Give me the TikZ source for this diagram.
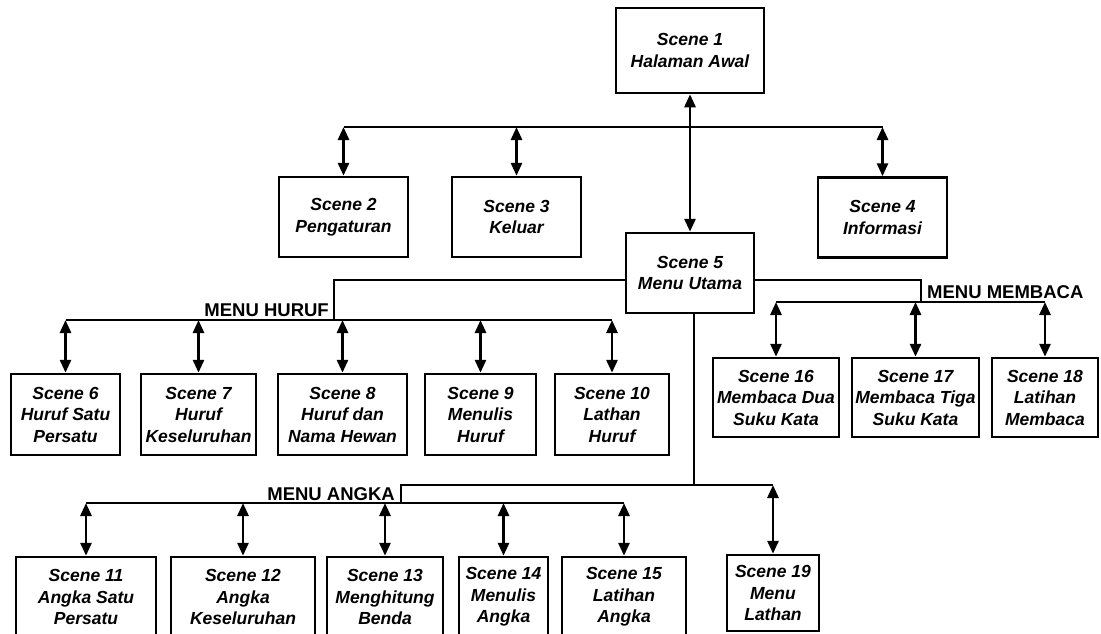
\documentclass[tikz,border=0pt]{standalone}
\usepackage{fontspec}
\setmainfont{Liberation Sans}
\usetikzlibrary{arrows.meta}
\tikzset{>={Triangle[length=13pt,width=11pt]}}
\tikzset{
  scene/.style={draw,line width=2.5pt,align=center,inner sep=0pt,minimum height=80pt,
    font=\fontsize{17.5}{21.5}\selectfont\bfseries\itshape},
  menu/.style={font=\fontsize{18.5}{20}\selectfont\bfseries,inner sep=0pt},
  link/.style={line width=2pt},
  twoway/.style={line width=2.8pt,<->}
}

\begin{document}
\begin{tikzpicture}[x=1pt,y=-1pt]
      \useasboundingbox (0,0) rectangle (1101,633);
      \clip (0,0) rectangle (1101,633);
      % top level
      \node[scene,minimum width=148pt,minimum height=85pt] (s1) at (690,50.5) {Scene 1\\Halaman Awal};
      \node[scene,minimum width=129pt] (s2) at (343.5,217) {Scene 2\\Pengaturan};
      \node[scene,minimum width=129pt] (s3) at (516.5,217) {Scene 3\\Keluar};
      \node[scene,minimum width=129pt] (s4) at (882.5,217.5) {Scene 4\\Informasi};
      \node[scene,minimum width=128pt] (s5) at (690,273) {Scene 5\\Menu Utama};
      % menu huruf
      \node[scene,minimum width=109pt,minimum height=81pt] (s6) at (65.5,414.5) {Scene 6\\Huruf Satu\\Persatu};
      \node[scene,minimum width=115pt,minimum height=81pt] (s7) at (198.5,414.5) {Scene 7\\Huruf\\Keseluruhan};
      \node[scene,minimum width=129pt,minimum height=81pt] (s8) at (342.5,414.5) {Scene 8\\Huruf dan\\Nama Hewan};
      \node[scene,minimum width=111pt,minimum height=81pt] (s9) at (480.5,414.5) {Scene 9\\Menulis\\Huruf};
      \node[scene,minimum width=114pt,minimum height=81pt] (s10) at (612,414.5) {Scene 10\\Lathan\\Huruf};
      % menu membaca
      \node[scene,minimum width=126pt,minimum height=79pt] (s16) at (776,397.5) {Scene 16\\Membaca Dua\\Suku Kata};
      \node[scene,minimum width=127pt,minimum height=79pt] (s17) at (915.5,397.5) {Scene 17\\Membaca Tiga\\Suku Kata};
      \node[scene,minimum width=106pt,minimum height=79pt] (s18) at (1045,397.5) {Scene 18\\Latihan\\Membaca};
      % menu angka
      \node[scene,minimum width=140pt] (s11) at (86,597) {Scene 11\\Angka Satu\\Persatu};
      \node[scene,minimum width=144pt] (s12) at (243,597) {Scene 12\\Angka\\Keseluruhan};
      \node[scene,minimum width=116pt] (s13) at (385,597) {Scene 13\\Menghitung\\Benda};
      \node[scene,minimum width=89pt] (s14) at (503.5,597) {Scene 14\\Menulis\\Angka};
      \node[scene,minimum width=124pt] (s15) at (624,597) {Scene 15\\Latihan\\Angka};
      \node[scene,minimum width=92pt,minimum height=76pt] (s19) at (773,593) {Scene 19\\Menu\\Lathan};
      % labels
      \node[menu,anchor=south east] (mhuruf) at (329,317) {MENU HURUF};
      \node[menu,anchor=south west] (mmembaca) at (927,299) {MENU MEMBACA};
      \node[menu,anchor=south east] (mangka) at (395,501) {MENU ANGKA};
      % top bus
      \coordinate (bustop) at (0,127);
      \draw[link] (s2.north |- bustop) -- (s4.north |- bustop);
      \foreach \s in {s2,s3,s4}
        \draw[twoway] (\s.north |- bustop) -- (\s.north);
      \draw[twoway] (s1.south) -- (s1.south |- s5.north);
      % huruf
      \coordinate (hbus) at (0,320);
      \coordinate (hcorner) at (334,0);
      \draw[link] ([yshift=-7pt]s5.west) -| (hcorner |- hbus);
      \draw[link] (s6.north |- hbus) -- (s10.north |- hbus);
      \foreach \s in {s6,s7,s8,s9,s10}
        \draw[twoway] (\s.north |- hbus) -- (\s.north);
      % membaca
      \coordinate (mbus) at (0,302);
      \coordinate (mcorner) at (921,0);
      \draw[link] ([yshift=-7pt]s5.east) -| (mcorner |- mbus);
      \draw[link] (s16.north |- mbus) -- (s18.north |- mbus);
      \foreach \s in {s16,s17,s18}
        \draw[twoway] (\s.north |- mbus) -- (\s.north);
      % angka
      \coordinate (mainbus) at (0,485);
      \coordinate (abus) at (0,503);
      \coordinate (acorner) at (401,0);
      \draw[link] ([xshift=4pt]s5.south) -- ([xshift=4pt]s5.south |- mainbus);
      \draw[link] (acorner |- abus) -- (acorner |- mainbus) -- (s19.north |- mainbus);
      \draw[twoway] (s19.north |- mainbus) -- (s19.north);
      \draw[link] (s11.north |- abus) -- (s15.north |- abus);
      \foreach \s in {s11,s12,s13,s14,s15}
        \draw[twoway] (\s.north |- abus) -- (\s.north);
\end{tikzpicture}
\end{document}
